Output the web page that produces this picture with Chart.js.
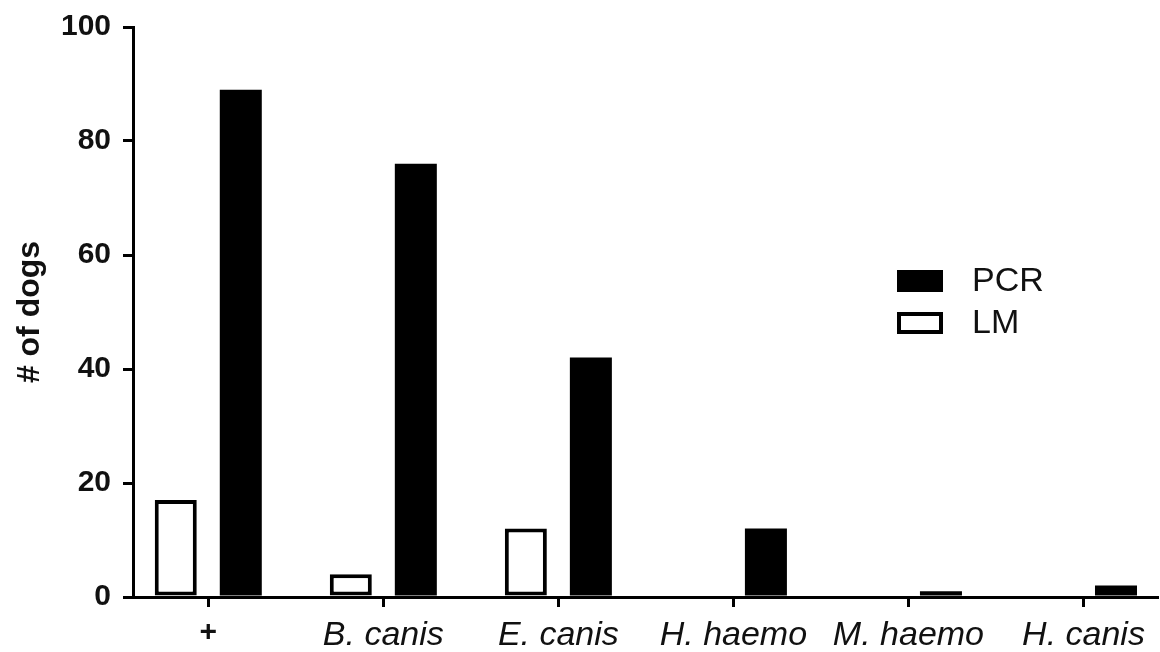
<!DOCTYPE html>
<html>
<head>
<meta charset="utf-8">
<script src="https://cdn.jsdelivr.net/npm/chart.js@4.4.1/dist/chart.umd.min.js"></script>
<style>
  html, body { margin: 0; padding: 0; background: #fff; }
  #wrap { width: 1160px; height: 652px; }
</style>
</head>
<body>
<div id="wrap"><canvas id="c" width="1160" height="652"></canvas></div>
<script>
const categories = ['+', 'B. canis', 'E. canis', 'H. haemo', 'M. haemo', 'H. canis'];
const lmValues = [17, 4, 12, 0, 0, 0];
const pcrValues = [89, 76, 42, 12, 1, 2];
const yTickValues = [0, 20, 40, 60, 80, 100];
const seriesNames = ['LM', 'PCR'];

const FONT = "'Liberation Sans', Arial, Helvetica, sans-serif";

const legendPlugin = {
  id: 'customLegend',
  afterDraw(chart) {
    const ctx = chart.ctx;
    const items = chart.data.datasets.slice().reverse();
    const x0 = 897, y0 = 270, boxW = 46, boxH = 22, gap = 42;
    ctx.save();
    items.forEach((ds, i) => {
      const y = y0 + i * gap;
      if (ds.borderWidth) {
        ctx.fillStyle = ds.borderColor;
        ctx.fillRect(x0, y, boxW, boxH);
        const b = ds.borderWidth;
        ctx.fillStyle = ds.backgroundColor;
        ctx.fillRect(x0 + b, y + b, boxW - 2 * b, boxH - 2 * b);
      } else {
        ctx.fillStyle = ds.backgroundColor;
        ctx.fillRect(x0, y, boxW, boxH);
      }
      ctx.fillStyle = '#111';
      ctx.font = "34px " + FONT;
      ctx.textBaseline = 'middle';
      ctx.textAlign = 'left';
      ctx.fillText(ds.label, 972, y + boxH / 2 + 1);
    });
    ctx.restore();
  }
};

new Chart(document.getElementById('c'), {
  type: 'bar',
  data: {
    datasets: [
      {
        label: seriesNames[0],
        data: lmValues.map((v, i) => ({ x: i, y: v })),
        backgroundColor: '#ffffff',
        borderColor: '#000000',
        borderWidth: 4,
        borderSkipped: false
      },
      {
        label: seriesNames[1],
        data: pcrValues.map((v, i) => ({ x: i, y: v })),
        backgroundColor: '#000000',
        borderWidth: 0
      }
    ]
  },
  options: {
    responsive: false,
    animation: false,
    devicePixelRatio: 1,
    categoryPercentage: 0.743,
    barPercentage: 0.646,
    layout: { padding: { top: 25, right: 3, left: 0, bottom: 0 } },
    plugins: {
      legend: { display: false },
      tooltip: { enabled: false }
    },
    scales: {
      x: {
        type: 'linear',
        min: -0.43,
        max: 5.42,
        offset: false,
        afterFit: s => { s.height = 55; },
        afterBuildTicks: s => { s.ticks = categories.map((c, i) => ({ value: i })); },
        border: { display: true, color: '#000', width: 3 },
        grid: { display: true, drawOnChartArea: false, drawTicks: true, tickLength: 10, color: '#000', lineWidth: 3, offset: false },
        ticks: {
          includeBounds: false,
          stepSize: 1,
          autoSkip: false,
          maxRotation: 0,
          padding: 8,
          color: '#111',
          callback: v => categories[v],
          font: ctx => (ctx.tick && ctx.tick.value === 0)
            ? { family: FONT, size: 30, weight: 'bold', style: 'normal' }
            : { family: FONT, size: 34, style: 'italic', weight: 'normal' }
        }
      },
      y: {
        min: 0,
        max: 100,
        afterFit: s => { s.width = 133; },
        afterBuildTicks: s => { s.ticks = yTickValues.map(v => ({ value: v })); },
        border: { display: true, color: '#000', width: 3 },
        grid: { display: true, drawOnChartArea: false, drawTicks: true, tickLength: 10, color: '#000', lineWidth: 3 },
        ticks: {
          padding: 12,
          color: '#111',
          font: { family: FONT, size: 30, weight: 'bold', lineHeight: 1.0 }
        },
        title: {
          display: true,
          text: '# of dogs',
          color: '#111',
          padding: { top: 11, bottom: 0 },
          font: { family: FONT, size: 32, weight: 'bold' }
        }
      }
    }
  },
  plugins: [legendPlugin]
});
</script>
</body>
</html>
